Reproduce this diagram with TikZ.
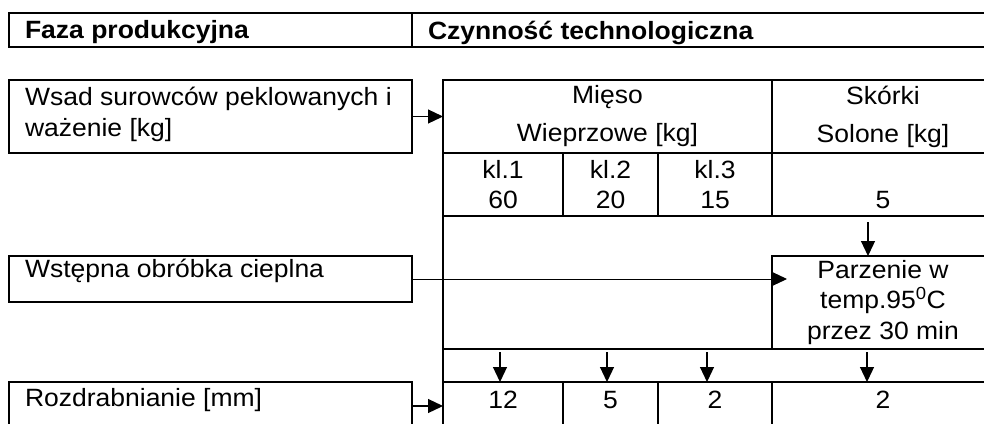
\documentclass[tikz,border=0pt]{standalone}
\usepackage{fontspec}
\setmainfont{Liberation Sans}[FakeStretch=1.06]
\usetikzlibrary{arrows.meta, positioning}

\begin{document}
\begin{tikzpicture}[x=1pt, y=-1pt,
  cellbox/.style={draw, line width=1.8pt, inner sep=0pt, outer sep=0pt, anchor=north west, align=center, font=\fontsize{25}{30.5}\selectfont},
  txt/.style={inner sep=0pt, outer sep=0pt, align=left, font=\fontsize{25}{31.5}\selectfont},
  numcell/.style={cellbox, text height=18pt, text depth=12.5pt},
  arr/.style={-{Triangle[length=15pt, width=14pt]}, line width=1.2pt}
]
\useasboundingbox (0,0) rectangle (984,423);
\clip (0,0) rectangle (984,423);

% naglowek
\node[cellbox, minimum width=403pt, minimum height=34pt] (hfaza) at (9,13) {};
\node[cellbox, minimum width=582pt, minimum height=34pt] (hczyn) at (412,13) {};
\node[txt, font=\fontsize{25}{31.5}\selectfont\bfseries, right=16pt of hfaza.west, yshift=-2.5pt] (hfazat) {Faza produkcyjna};
\node[txt, font=\fontsize{25}{31.5}\selectfont\bfseries, right=16pt of hczyn.west, yshift=-2.5pt] (hczynt) {Czynność technologiczna};

% fazy produkcyjne
\node[cellbox, minimum width=403pt, minimum height=73pt] (wsad) at (9,80) {};
\node[cellbox, minimum width=403pt, minimum height=46pt] (wstep) at (9,256) {};
\node[cellbox, minimum width=403pt, minimum height=48pt] (rozdr) at (9,382) {};
\node[txt, right=16pt of wsad.west, yshift=2pt] (wsadt) {Wsad surowców peklowanych i\\ważenie [kg]};
\node[txt, right=16pt of wstep.west, yshift=8pt] (wstept) {Wstępna obróbka cieplna};
\node[txt, right=16pt of rozdr.west, yshift=5.5pt] (rozdrt) {Rozdrabnianie [mm]};

% surowce
\node[cellbox, minimum width=329pt, minimum height=73pt, font=\fontsize{25}{38}\selectfont] (mieso) at (443,80) {Mięso\\Wieprzowe [kg]};
\node[cellbox, minimum width=222pt, minimum height=73pt, font=\fontsize{25}{38}\selectfont] (skorki) at (772,80) {Skórki\\Solone [kg]};
\node[cellbox, minimum width=120pt, minimum height=63pt] (kl1) at (443,153) {kl.1\\60};
\node[cellbox, minimum width=95pt, minimum height=63pt] (kl2) at (563,153) {kl.2\\20};
\node[cellbox, minimum width=114pt, minimum height=63pt] (kl3) at (658,153) {kl.3\\15};
\node[cellbox, minimum width=222pt, minimum height=63pt] (sol) at (772,153) {};
\node[txt] (solt) at ([yshift=-15.5pt]sol.center) {5};

% obrobka cieplna
\node[cellbox, minimum width=551pt, minimum height=133pt] (obr) at (443,216) {};
\node[cellbox, minimum width=222pt, minimum height=93pt] (parz) at (772,256) {Parzenie w\\temp.95\textsuperscript{0}C\\przez 30 min};
\node[cellbox, minimum width=551pt, minimum height=33pt] (pas) at (443,349) {};

% rozdrabnianie
\node[numcell, minimum width=120pt, minimum height=48pt] (r1) at (443,382) {12};
\node[numcell, minimum width=95pt, minimum height=48pt] (r2) at (563,382) {5};
\node[numcell, minimum width=114pt, minimum height=48pt] (r3) at (658,382) {2};
\node[numcell, minimum width=222pt, minimum height=48pt] (r4) at (772,382) {2};

% strzalki
\coordinate (s0) at (868,222);
\coordinate (s1) at (500,352);
\coordinate (s2) at (607,352);
\coordinate (s3) at (707,352);
\coordinate (s4) at (867,352);
\draw[arr] (wsad) -- (mieso);
\draw[arr, line width=1pt, shorten >=-15pt] (wstep.east) -- (wstep.east -| parz.west);
\draw[arr] (rozdr) -- (r1);
\draw[arr] (s0) -- (s0 |- parz.north);
\draw[arr] (s1) -- (s1 |- r1.north);
\draw[arr] (s2) -- (s2 |- r2.north);
\draw[arr] (s3) -- (s3 |- r3.north);
\draw[arr] (s4) -- (s4 |- r4.north);
\end{tikzpicture}
\end{document}
